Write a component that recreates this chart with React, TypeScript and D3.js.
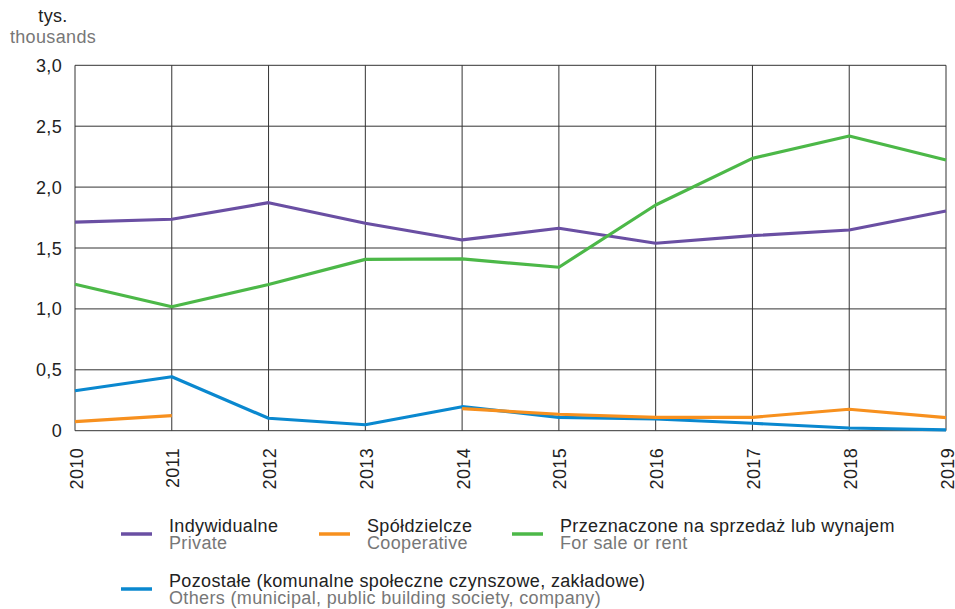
import React from "react";
import * as d3 from "d3";

const years = [2010, 2011, 2012, 2013, 2014, 2015, 2016, 2017, 2018, 2019];
const yTicks = [0, 0.5, 1.0, 1.5, 2.0, 2.5, 3.0];

const privateVals: (number | null)[] = [1.713, 1.736, 1.872, 1.703, 1.566, 1.662, 1.539, 1.601, 1.648, 1.804];
const cooperativeVals: (number | null)[] = [0.074, 0.123, null, null, 0.181, 0.135, 0.11, 0.11, 0.176, 0.107];
const saleVals: (number | null)[] = [1.202, 1.018, 1.2, 1.407, 1.41, 1.342, 1.853, 2.236, 2.42, 2.222];
const othersVals: (number | null)[] = [0.328, 0.443, 0.102, 0.049, 0.197, 0.11, 0.096, 0.061, 0.022, 0.006];

const seriesNames = [
  { pl: "Indywidualne", en: "Private", color: "#6a4fa3", values: privateVals },
  { pl: "Spółdzielcze", en: "Cooperative", color: "#f7901e", values: cooperativeVals },
  { pl: "Przeznaczone na sprzedaż lub wynajem", en: "For sale or rent", color: "#4cb848", values: saleVals },
  { pl: "Pozostałe (komunalne społeczne czynszowe, zakładowe)", en: "Others (municipal, public building society, company)", color: "#0a88cf", values: othersVals },
];

export default function App() {
  const W = 955, H = 609;
  const x = d3.scaleLinear().domain([2010, 2019]).range([75, 946]);
  const y = d3.scaleLinear().domain([0, 3]).range([430.7, 65.3]);
  const font = "'Liberation Sans', Arial, Helvetica, sans-serif";
  const fs = 18;
  const ls = 0.35;

  const line = d3
    .line<number | null>()
    .defined((d) => d !== null)
    .x((_, i) => x(years[i]))
    .y((d) => y(d as number));

  const legendPos = [
    { sx: 121, tx: 169, y: 532 },
    { sx: 319, tx: 367, y: 532 },
    { sx: 512, tx: 560, y: 532 },
    { sx: 121, tx: 169, y: 587 },
  ];

  return (
    <svg width={W} height={H} style={{ position: "absolute", left: 0, top: 0, fontFamily: font }}>
      <rect width={W} height={H} fill="#fff" />
      <text x={53} y={22} textAnchor="middle" fontSize={fs} letterSpacing={ls} fill="#222">tys.</text>
      <text x={53} y={43} textAnchor="middle" fontSize={fs} letterSpacing={ls} fill="#777">thousands</text>

      {yTicks.map((t) => (
        <g key={"y" + t}>
          <line x1={x(2010)} x2={x(2019)} y1={y(t)} y2={y(t)} stroke="#333" strokeWidth={1} />
          <text x={62} y={y(t) + 6.5} textAnchor="end" fontSize={fs} letterSpacing={ls} fill="#222">
            {t === 0 ? "0" : d3.format(".1f")(t).replace(".", ",")}
          </text>
        </g>
      ))}
      {years.map((yr) => (
        <g key={"x" + yr}>
          <line x1={x(yr)} x2={x(yr)} y1={y(3)} y2={y(0)} stroke="#333" strokeWidth={1} />
          <text
            transform={`translate(${x(yr) + 7.5},448) rotate(-90)`}
            textAnchor="end"
            fontSize={fs}
            letterSpacing={ls}
            fill="#222"
          >
            {yr}
          </text>
        </g>
      ))}

      {[othersVals, cooperativeVals, privateVals, saleVals].map((vals, i) => {
        const s = seriesNames.find((n) => n.values === vals)!;
        return (
          <path key={"s" + i} d={line(vals) || ""} fill="none" stroke={s.color} strokeWidth={3.2} strokeLinejoin="round" />
        );
      })}

      {seriesNames.map((s, i) => {
        const p = legendPos[i];
        return (
          <g key={"l" + i}>
            <line x1={p.sx} x2={p.sx + 31} y1={p.y + 2} y2={p.y + 2} stroke={s.color} strokeWidth={3.5} />
            <text x={p.tx} y={p.y} fontSize={fs} letterSpacing={ls} fill="#222">{s.pl}</text>
            <text x={p.tx} y={p.y + 17} fontSize={fs} letterSpacing={ls} fill="#777">{s.en}</text>
          </g>
        );
      })}
    </svg>
  );
}
